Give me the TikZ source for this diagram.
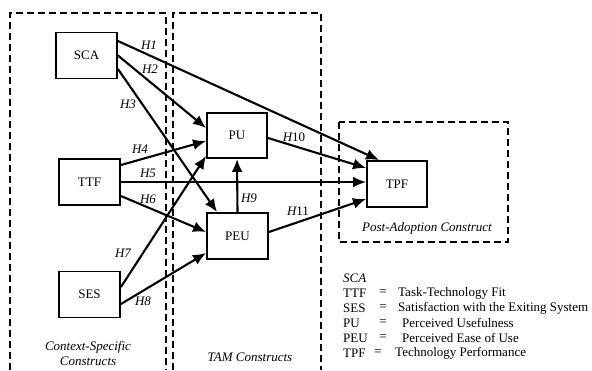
\documentclass[tikz,border=0pt]{standalone}
\usepackage{fontspec}
\setmainfont{Liberation Serif}
\usetikzlibrary{arrows.meta}

\tikzset{
  box/.style={draw, line width=1.9pt, minimum width=61pt, minimum height=46pt, font=\fontsize{13}{15}\selectfont},
  arr/.style={line width=2.1pt, -{Latex[length=13pt,width=11pt]}},
  region/.style={dashed, line width=1.8pt, dash pattern=on 7pt off 4pt},
  hyp/.style={font=\fontsize{13}{15}\selectfont\itshape, inner sep=0pt},
  regionlabel/.style={font=\fontsize{13}{15}\selectfont\itshape, align=center, inner sep=0pt},
  legend/.style={font=\fontsize{13}{15}\selectfont, inner sep=0pt, anchor=west}
}

\begin{document}
\begin{tikzpicture}[x=1pt, y=-1pt]
    \useasboundingbox (0,0) rectangle (592,370);
    % construct regions
    \draw[region] (10,370) -- (10,13) -- (166,13) -- (166,370);
    \draw[region] (173,370) -- (173,13) -- (321,13) -- (321,370);
    \draw[region] (339,122) rectangle (508,242);
    \node[regionlabel] (lcontext) at (88,353) {Context-Specific\\Constructs};
    \node[regionlabel] (ltam) at (250,357) {TAM Constructs};
    \node[regionlabel] (lpost) at (427,228) {Post-Adoption Construct};

    % constructs
    \node[box] (SCA) at (86.5,55.5) {SCA};
    \node[box] (TTF) at (89.5,182) {TTF};
    \node[box] (SES) at (89.5,294.5) {SES};
    \node[box, minimum width=60pt, minimum height=45pt] (PU) at (237,135.5) {PU};
    \node[box] (PEU) at (237.5,236) {PEU};
    \node[box, minimum width=60pt] (TPF) at (397,184) {TPF};

    % hypotheses
    \draw[arr] ([yshift=14.5pt]SCA.east) -- ([xshift=13pt]TPF.north west);
    \draw[arr] (SCA.east) -- ([yshift=7.5pt]PU.west);
    \draw[arr] ([yshift=-13.5pt]SCA.east) -- ([xshift=11pt]PEU.north west);
    \draw[arr] ([yshift=17pt]TTF.east) -- ([yshift=-5.5pt]PU.west);
    \draw[arr] (TTF.east) -- (TTF.east -| TPF.west);
    \draw[arr] ([yshift=-14pt]TTF.east) -- ([yshift=4pt]PEU.west);
    \draw[arr] ([yshift=7.5pt]SES.east) -- ([yshift=3pt]PU.south west);
    \draw[arr] ([yshift=-9.5pt]SES.east) -- ([yshift=-17pt]PEU.west);
    \draw[arr] (PEU.north) -- (PU.south);
    \draw[arr] ([yshift=-2.5pt]PU.east) -- ([yshift=16pt]TPF.west);
    \draw[arr] ([yshift=4pt]PEU.east) -- ([yshift=-15pt]TPF.west);

    \node[hyp] (h1) at (149,45) {H1};
    \node[hyp] (h2) at (150,69) {H2};
    \node[hyp] (h3) at (128,104) {H3};
    \node[hyp] (h4) at (140,149) {H4};
    \node[hyp] (h5) at (148,173) {H5};
    \node[hyp] (h6) at (148,199) {H6};
    \node[hyp] (h7) at (123,253) {H7};
    \node[hyp] (h8) at (143,301) {H8};
    \node[hyp] (h9) at (249,198) {H9};
    \node[hyp] (h10) at (294,137) {H\upshape 10};
    \node[hyp] (h11) at (298,211) {H\upshape 11};

    % legend
    \node[legend] (kSCA) at (343,278) {\itshape SCA};
    \foreach \y/\abbr/\eqx/\dx/\desc in {293/TTF/383/398/Task-Technology Fit,
        308/SES/383/398/Satisfaction with the Exiting System,
        323/PU/383/402/Perceived Usefulness,
        338/PEU/383/402/Perceived Ease of Use,
        353/TPF/378/395/Technology Performance}{
        \node[legend] (k\abbr) at (343,\y) {\abbr};
        \node[legend, anchor=center] (e\abbr) at (\eqx,\y) {=};
        \node[legend] (d\abbr) at (\dx,\y) {\desc};
    }
\end{tikzpicture}
\end{document}
